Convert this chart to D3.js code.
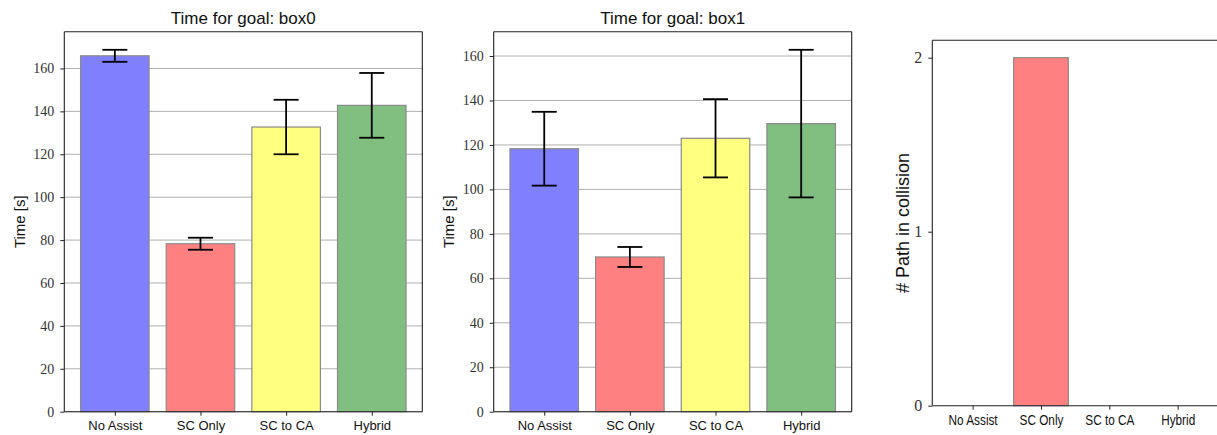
<!DOCTYPE html>
<html>
<head>
<meta charset="utf-8">
<script src="https://cdn.jsdelivr.net/npm/d3@7"></script>
<style>
  html, body { margin: 0; padding: 0; background: #fff; }
  svg { display: block; }
</style>
</head>
<body>
<svg id="fig" width="1217" height="435"></svg>
<script>
// Assistance modes compared in each panel
const categories = ["No Assist", "SC Only", "SC to CA", "Hybrid"];
const barColors = ["#8080ff", "#ff8080", "#ffff80", "#80bf80"];

// Mean completion time and spread for goal box0 (seconds)
const box0Mean = [165.9, 78.3, 132.7, 142.8];
const box0Err  = [2.8, 2.8, 12.7, 15.1];

// Mean completion time and spread for goal box1 (seconds)
const box1Mean = [118.3, 69.6, 123.0, 129.6];
const box1Err  = [16.6, 4.5, 17.6, 33.2];

// Number of paths ending in collision
const collisions = [0, 2, 0, 0];

const timeTicks = [0, 20, 40, 60, 80, 100, 120, 140, 160];
const collisionTicks = [0, 1, 2];

const svg = d3.select("#fig");
const SANS = "'Liberation Sans', Arial, sans-serif";
const SERIF = "'Liberation Serif', 'DejaVu Serif', serif";

function panel(opts) {
  const { left, right, top, bottom, values, errors, ticks, title, ylabel } = opts;
  const n = values.length;
  const barW = 0.8;
  const pad = 0.05 * (n - 1 + barW);
  const x = d3.scaleLinear()
    .domain([-barW / 2 - pad, n - 1 + barW / 2 + pad])
    .range([left, right]);
  const hi = d3.max(values, (v, i) => v + (errors ? errors[i] : 0));
  const y = d3.scaleLinear().domain([0, hi * 1.05]).range([bottom, top]);

  const g = svg.append("g");

  // horizontal grid, behind the bars
  if (opts.grid) {
    g.append("g").selectAll("line").data(ticks).join("line")
      .attr("x1", left).attr("x2", right)
      .attr("y1", d => y(d)).attr("y2", d => y(d))
      .attr("stroke", "#b0b0b0").attr("stroke-width", 1);
  }

  // bars
  g.append("g").selectAll("rect").data(values).join("rect")
    .attr("x", (d, i) => x(i - barW / 2))
    .attr("width", (d, i) => x(i + barW / 2) - x(i - barW / 2))
    .attr("y", d => y(d))
    .attr("height", d => y(0) - y(d))
    .attr("fill", (d, i) => barColors[i])
    .attr("stroke", d => d > 0 ? "#8a8a8a" : "none")
    .attr("stroke-width", 1.2);

  // error bars with caps
  if (errors) {
    const eb = g.append("g").attr("stroke", "#000").attr("stroke-width", 1.8);
    values.forEach((v, i) => {
      const cx = x(i);
      eb.append("line").attr("x1", cx).attr("x2", cx)
        .attr("y1", y(v - errors[i])).attr("y2", y(v + errors[i]));
      [v - errors[i], v + errors[i]].forEach(e => {
        eb.append("line").attr("x1", cx - 12.5).attr("x2", cx + 12.5)
          .attr("y1", y(e)).attr("y2", y(e));
      });
    });
  }

  // spines
  const sp = g.append("g").attr("stroke", "#222").attr("stroke-width", 1.1).attr("fill", "none");
  sp.append("line").attr("x1", left).attr("x2", left).attr("y1", top).attr("y2", bottom);
  sp.append("line").attr("x1", left).attr("x2", right).attr("y1", bottom).attr("y2", bottom);
  sp.append("line").attr("x1", left).attr("x2", right).attr("y1", top).attr("y2", top);
  sp.append("line").attr("x1", right).attr("x2", right).attr("y1", top).attr("y2", bottom);

  // y axis
  const ya = g.append("g").attr("transform", `translate(${left},0)`)
    .call(d3.axisLeft(y).tickValues(ticks).tickSize(4).tickPadding(opts.yPad || 6).tickFormat(d3.format("d")));
  ya.select(".domain").remove();
  ya.selectAll(".tick line").attr("stroke", "#222");
  ya.selectAll(".tick text").attr("font-family", SERIF).attr("font-size", opts.yFont || 14).attr("fill", "#333");

  // x axis
  const xa = g.append("g").attr("transform", `translate(0,${bottom})`)
    .call(d3.axisBottom(x).tickValues(d3.range(n)).tickSize(4).tickPadding(5).tickFormat(i => categories[i]));
  xa.select(".domain").remove();
  xa.selectAll(".tick line").attr("stroke", "#222");
  xa.selectAll(".tick text").attr("font-family", SANS).attr("font-size", opts.xFont || 13).attr("fill", "#111");
  if (opts.xSqueeze) {
    xa.selectAll(".tick text").each(function () {
      const w = this.getComputedTextLength();
      d3.select(this).attr("textLength", w * opts.xSqueeze).attr("lengthAdjust", "spacingAndGlyphs");
    });
  }

  if (title) {
    g.append("text").attr("x", (left + right) / 2).attr("y", top - 8)
      .attr("text-anchor", "middle").attr("font-family", SANS).attr("font-size", 17)
      .attr("fill", "#111").text(title);
  }
  g.append("text")
    .attr("transform", `translate(${opts.ylabelX},${(top + bottom) / 2}) rotate(-90)`)
    .attr("text-anchor", "middle").attr("font-family", SANS).attr("font-size", opts.ylabelSize || 15)
    .attr("fill", "#111").text(ylabel);
}

panel({ left: 64.3, right: 422.3, top: 31.7, bottom: 411.7,
  values: box0Mean, errors: box0Err, ticks: timeTicks, grid: true,
  title: "Time for goal: box0", ylabel: "Time [s]", ylabelX: 25 });

panel({ left: 493.7, right: 851.7, top: 31.7, bottom: 411.7,
  values: box1Mean, errors: box1Err, ticks: timeTicks, grid: true,
  title: "Time for goal: box1", ylabel: "Time [s]", ylabelX: 454 });

panel({ left: 932.3, right: 1218, top: 40.3, bottom: 405.7,
  values: collisions, errors: null, ticks: collisionTicks, grid: false,
  title: null, ylabel: "# Path in collision", ylabelX: 909, ylabelSize: 18,
  yFont: 16, xFont: 14, xSqueeze: 0.84 });
</script>
</body>
</html>
